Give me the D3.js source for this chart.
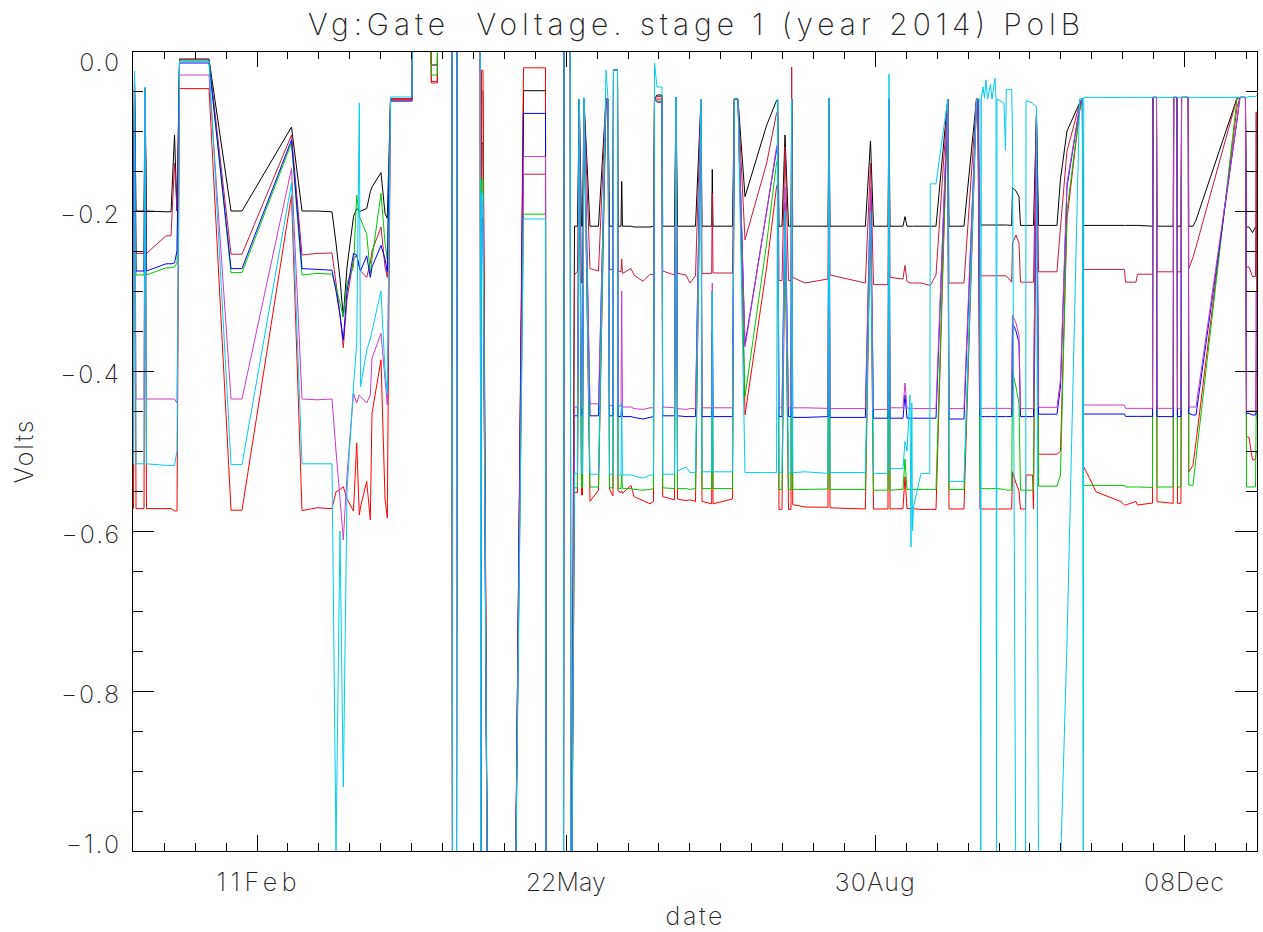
<!DOCTYPE html>
<html>
<head>
<meta charset="utf-8">
<script src="https://cdn.jsdelivr.net/npm/d3@7"></script>
<style>
  body { margin: 0; background: #fff; }
  text { font-family: "Inter", "DejaVu Sans", sans-serif; font-weight: 200; fill: #222; }
</style>
</head>
<body>
<svg id="chart" width="1263" height="932"></svg>
<script>
// day of 2014 (days since 1 Jan), one shared time base for every channel
var days = [
  0.72, 1.21, 1.53, 2.02, 4.61, 4.93, 5.41, 11.72, 13.34, 14.47,
  15.28, 16.09, 25.63, 32.75, 36.30, 52.31, 55.71, 60.56, 65.41, 66.71,
  68.00, 69.07, 70.27, 72.37, 73.40, 74.25, 74.63, 76.64, 77.80, 78.35,
  81.26, 82.56, 83.30, 84.34, 91.29, 91.45, 97.37, 97.53, 99.47, 99.64,
  104.23, 104.39, 105.68, 105.85, 113.38, 113.54, 113.77, 114.25, 115.71, 124.61,
  127.36, 134.47, 134.63, 140.29, 140.45, 142.49, 142.65, 142.88, 143.85, 144.82,
  145.40, 146.11, 146.44, 146.92, 148.86, 151.61, 154.04, 154.69, 155.17, 156.30,
  156.46, 157.76, 157.92, 158.89, 159.12, 159.37, 162.12, 163.10, 166.01, 168.27,
  169.40, 169.73, 170.53, 172.15, 172.38, 176.19, 176.68, 177.17, 179.91, 181.21,
  182.99, 184.77, 185.09, 188.23, 188.42, 188.65, 194.96, 195.54, 196.73, 199.00,
  206.02, 209.19, 209.58, 209.99, 210.97, 211.94, 213.07, 213.88, 214.10, 214.43,
  218.40, 225.84, 226.17, 226.49, 237.94, 239.59, 240.56, 245.25, 245.57, 245.90,
  250.10, 250.75, 251.40, 252.37, 252.69, 252.95, 253.18, 253.50, 255.92, 258.77,
  258.93, 260.78, 264.60, 264.98, 269.83, 273.88, 274.36, 275.01, 275.27, 275.43,
  275.98, 276.47, 276.95, 277.44, 278.41, 278.89, 279.86, 280.18, 280.35, 280.51,
  282.77, 283.26, 283.52, 285.26, 285.52, 286.65, 287.62, 288.11, 289.73, 289.89,
  292.02, 292.31, 293.28, 293.96, 299.91, 301.05, 303.15, 307.23, 308.13, 308.42,
  308.58, 310.59, 312.53, 320.62, 321.75, 322.07, 325.47, 325.95, 330.81, 330.97,
  332.10, 332.26, 337.50, 337.66, 338.73, 338.89, 340.02, 340.21, 342.38, 342.54,
  343.90, 344.87, 358.14, 359.11, 360.88, 361.21, 362.02, 363.15, 364.12, 364.35,
  364.61
];

// gate voltages (V); values outside [-1, 0] run off the frame
var vgBlack = [
  -0.035, -0.2, -0.035, -0.2, -0.2, -0.047, -0.2, -0.201, -0.201, -0.105,
  -0.2, -0.01, -0.01, -0.2, -0.2, -0.095, -0.2, -0.2, -0.201, -0.24,
  -0.285, -0.3325, -0.27, -0.207, -0.197, -0.2, -0.2, -0.197, -0.176, -0.17,
  -0.152, -0.203, -0.209, -0.06, -0.06, 0.05, 0.05, -0.0175, -0.0175, 0.05,
  0.05, -1.1, -1.1, 0.05, 0.05, -1.1, -0.115, -0.115, -1.1, -1.1,
  -0.0496, -0.0496, -1.1, -1.1, 0.05, 0.05, -1.1, -1.1, -0.219, -0.219,
  -0.06, -0.219, -0.219, -0.06, -0.219, -0.219, -0.06, -0.06, -0.219, -0.219,
  -0.024, -0.024, -0.219, -0.219, -0.163, -0.219, -0.219, -0.22, -0.22, -0.22,
  -0.219, -0.06, -0.055, -0.055, -0.219, -0.219, -0.058, -0.219, -0.219, -0.219,
  -0.219, -0.06, -0.219, -0.219, -0.148, -0.219, -0.219, -0.06, -0.06, -0.182,
  -0.0925, -0.062, -0.061, -0.219, -0.219, -0.105, -0.219, -0.219, -0.06, -0.219,
  -0.219, -0.219, -0.059, -0.219, -0.219, -0.1125, -0.219, -0.219, -0.06, -0.219,
  -0.219, -0.207, -0.219, -0.219, -0.219, -0.219, -0.219, -0.219, -0.219, -0.219,
  -0.219, -0.219, -0.06, -0.219, -0.219, -0.06, -0.06, -0.2175, -0.2175, -0.2175,
  -0.2175, -0.2175, -0.2175, -0.2175, -0.2175, -0.2175, -0.2175, -0.2175, -0.2175, -0.2175,
  -0.2175, -0.2175, -0.2175, -0.218, -0.171, -0.175, -0.182, -0.218, -0.218, -0.218,
  -0.218, -0.218, -0.08, -0.218, -0.218, -0.16, -0.1, -0.065, -0.059, -0.218,
  -0.218, -0.218, -0.218, -0.218, -0.218, -0.218, -0.218, -0.218, -0.219, -0.058,
  -0.058, -0.219, -0.219, -0.058, -0.058, -0.219, -0.219, -0.058, -0.058, -0.219,
  -0.219, -0.2116, -0.059, -0.058, -0.058, -0.22, -0.22, -0.227, -0.22, -0.22,
  -0.22
];

var vgCrimson = [
  -0.035, -0.253, -0.035, -0.253, -0.253, -0.047, -0.253, -0.231, -0.231, -0.14,
  -0.2, -0.011, -0.011, -0.254, -0.254, -0.105, -0.255, -0.253, -0.2525, -0.29,
  -0.33, -0.371, -0.31, -0.26, -0.255, -0.27, -0.275, -0.283, -0.265, -0.25,
  -0.22, -0.27, -0.283, -0.06, -0.06, 0.05, 0.05, -0.038, -0.038, 0.05,
  0.05, -1.1, -1.1, 0.05, 0.05, -1.1, -0.05, -0.05, -1.1, -1.1,
  -0.154, -0.154, -1.1, -1.1, 0.05, 0.05, -1.1, -1.1, -0.28, -0.275,
  -0.06, -0.29, -0.29, -0.06, -0.272, -0.275, -0.06, -0.06, -0.273, -0.273,
  -0.024, -0.024, -0.275, -0.276, -0.26, -0.278, -0.272, -0.28, -0.288, -0.279,
  -0.28, -0.06, -0.057, -0.057, -0.275, -0.28, -0.058, -0.278, -0.28, -0.29,
  -0.281, -0.06, -0.278, -0.278, -0.178, -0.2775, -0.2775, -0.06, -0.06, -0.236,
  -0.14, -0.078, -0.075, -0.287, -0.287, -0.12, -0.287, -0.287, -0.02, -0.283,
  -0.29, -0.285, -0.059, -0.28, -0.29, -0.14, -0.292, -0.292, -0.06, -0.283,
  -0.285, -0.268, -0.288, -0.29, -0.29, -0.29, -0.29, -0.29, -0.29, -0.293,
  -0.293, -0.28, -0.06, -0.29, -0.29, -0.06, -0.06, -0.281, -0.281, -0.281,
  -0.281, -0.281, -0.281, -0.281, -0.281, -0.281, -0.281, -0.281, -0.281, -0.281,
  -0.281, -0.281, -0.281, -0.289, -0.24, -0.23, -0.24, -0.289, -0.289, -0.289,
  -0.289, -0.289, -0.08, -0.276, -0.276, -0.22, -0.125, -0.066, -0.059, -0.273,
  -0.273, -0.273, -0.273, -0.273, -0.273, -0.289, -0.289, -0.279, -0.279, -0.058,
  -0.058, -0.276, -0.276, -0.058, -0.058, -0.276, -0.276, -0.058, -0.058, -0.272,
  -0.258, -0.245, -0.059, -0.058, -0.058, -0.27, -0.27, -0.282, -0.282, -0.076,
  -0.46
];

var vgBlue = [
  -0.046, -0.275, -0.035, -0.275, -0.275, -0.047, -0.275, -0.266, -0.266, -0.265,
  -0.25, -0.015, -0.015, -0.272, -0.272, -0.111, -0.272, -0.273, -0.274, -0.3,
  -0.33, -0.361, -0.3, -0.253, -0.255, -0.27, -0.275, -0.256, -0.283, -0.27,
  -0.243, -0.26, -0.276, -0.0625, -0.0625, 0.05, 0.05, 0.05, 0.05, 0.05,
  0.05, -1.1, -1.1, 0.05, 0.05, -1.1, -0.21, -0.21, -1.1, -1.1,
  -0.078, -0.078, -1.1, -1.1, 0.05, 0.05, -1.1, -1.1, -0.456, -0.456,
  -0.06, -0.456, -0.456, -0.06, -0.456, -0.456, -0.06, -0.06, -0.456, -0.456,
  -0.024, -0.024, -0.457, -0.457, -0.44, -0.457, -0.457, -0.458, -0.46, -0.458,
  -0.457, -0.06, -0.064, -0.064, -0.456, -0.456, -0.058, -0.456, -0.457, -0.457,
  -0.457, -0.06, -0.457, -0.457, -0.3, -0.457, -0.457, -0.06, -0.06, -0.367,
  -0.2, -0.124, -0.12, -0.457, -0.457, -0.19, -0.457, -0.457, -0.06, -0.458,
  -0.458, -0.457, -0.059, -0.458, -0.458, -0.18, -0.459, -0.459, -0.06, -0.459,
  -0.459, -0.43, -0.459, -0.459, -0.459, -0.459, -0.459, -0.459, -0.459, -0.459,
  -0.459, -0.459, -0.06, -0.46, -0.46, -0.06, -0.06, -0.457, -0.457, -0.457,
  -0.457, -0.457, -0.457, -0.457, -0.457, -0.457, -0.457, -0.457, -0.457, -0.457,
  -0.457, -0.457, -0.457, -0.457, -0.34, -0.35, -0.365, -0.457, -0.457, -0.457,
  -0.457, -0.457, -0.08, -0.454, -0.454, -0.42, -0.17, -0.07, -0.059, -0.4538,
  -0.4538, -0.4538, -0.4538, -0.4538, -0.4538, -0.4567, -0.4567, -0.4567, -0.4567, -0.058,
  -0.058, -0.457, -0.457, -0.058, -0.058, -0.457, -0.457, -0.058, -0.058, -0.453,
  -0.455, -0.455, -0.087, -0.058, -0.058, -0.453, -0.453, -0.455, -0.455, -0.45,
  -0.45
];

var vgGreen = [
  -0.046, -0.28, -0.035, -0.28, -0.28, -0.047, -0.28, -0.271, -0.271, -0.27,
  -0.265, -0.0125, -0.0125, -0.277, -0.277, -0.115, -0.28, -0.278, -0.279, -0.295,
  -0.315, -0.3325, -0.29, -0.27, -0.18, -0.207, -0.21, -0.229, -0.278, -0.26,
  -0.178, -0.24, -0.26, -0.0625, -0.0625, 0.05, 0.05, -0.03, -0.03, 0.05,
  0.05, -1.1, -1.1, 0.05, 0.05, -1.1, -0.16, -0.16, -1.1, -1.1,
  -0.204, -0.204, -1.1, -1.1, 0.05, 0.05, -1.1, -1.1, -0.546, -0.546,
  -0.06, -0.546, -0.546, -0.06, -0.545, -0.545, -0.06, -0.06, -0.546, -0.546,
  -0.024, -0.024, -0.547, -0.547, -0.53, -0.547, -0.547, -0.548, -0.549, -0.548,
  -0.547, -0.06, -0.0625, -0.0625, -0.546, -0.547, -0.058, -0.547, -0.547, -0.548,
  -0.547, -0.06, -0.547, -0.547, -0.35, -0.547, -0.547, -0.06, -0.06, -0.432,
  -0.24, -0.14, -0.135, -0.548, -0.548, -0.2, -0.548, -0.548, -0.06, -0.548,
  -0.548, -0.5475, -0.059, -0.548, -0.548, -0.19, -0.549, -0.549, -0.06, -0.549,
  -0.548, -0.51, -0.548, -0.548, -0.548, -0.548, -0.548, -0.548, -0.548, -0.548,
  -0.548, -0.548, -0.06, -0.548, -0.548, -0.06, -0.06, -0.547, -0.547, -0.547,
  -0.547, -0.547, -0.547, -0.547, -0.547, -0.547, -0.547, -0.547, -0.547, -0.547,
  -0.548, -0.548, -0.549, -0.549, -0.40, -0.42, -0.44, -0.549, -0.549, -0.549,
  -0.549, -0.549, -0.08, -0.544, -0.544, -0.53, -0.2, -0.075, -0.059, -0.543,
  -0.543, -0.543, -0.543, -0.543, -0.543, -0.545, -0.545, -0.545, -0.5455, -0.058,
  -0.058, -0.545, -0.545, -0.058, -0.058, -0.545, -0.545, -0.058, -0.058, -0.5425,
  -0.543, -0.509, -0.06, -0.058, -0.058, -0.545, -0.545, -0.545, -0.545, -0.453,
  -0.453
];

var vgMagenta = [
  -0.046, -0.435, -0.035, -0.435, -0.435, -0.047, -0.435, -0.435, -0.435, -0.435,
  -0.44, -0.03, -0.03, -0.435, -0.435, -0.147, -0.435, -0.436, -0.435, -0.5,
  -0.56, -0.611, -0.53, -0.428, -0.44, -0.43, -0.432, -0.44, -0.43, -0.384,
  -0.353, -0.41, -0.442, -0.0625, -0.0625, 0.05, 0.05, 0.05, 0.05, 0.05,
  0.05, -1.1, -1.1, 0.05, 0.05, -1.1, -0.19, -0.19, -1.1, -1.1,
  -0.132, -0.132, -1.1, -1.1, 0.05, 0.05, -1.1, -1.1, -0.445, -0.445,
  -0.06, -0.446, -0.446, -0.06, -0.441, -0.441, -0.06, -0.06, -0.443, -0.443,
  -0.024, -0.024, -0.443, -0.444, -0.3, -0.445, -0.445, -0.447, -0.448, -0.446,
  -0.446, -0.06, -0.064, -0.064, -0.445, -0.446, -0.058, -0.447, -0.448, -0.447,
  -0.447, -0.06, -0.446, -0.446, -0.29, -0.446, -0.446, -0.06, -0.06, -0.37,
  -0.2, -0.12, -0.115, -0.446, -0.446, -0.17, -0.446, -0.446, -0.06, -0.446,
  -0.446, -0.4467, -0.059, -0.447, -0.447, -0.17, -0.448, -0.448, -0.06, -0.446,
  -0.446, -0.415, -0.446, -0.447, -0.447, -0.447, -0.447, -0.447, -0.447, -0.447,
  -0.447, -0.447, -0.06, -0.447, -0.447, -0.06, -0.06, -0.4467, -0.4467, -0.4467,
  -0.4467, -0.4467, -0.4467, -0.4467, -0.4467, -0.4467, -0.4467, -0.4467, -0.4467, -0.4467,
  -0.4467, -0.4467, -0.4467, -0.4467, -0.33, -0.34, -0.355, -0.447, -0.447, -0.447,
  -0.447, -0.447, -0.08, -0.4454, -0.4454, -0.41, -0.165, -0.07, -0.059, -0.4425,
  -0.4425, -0.4425, -0.4425, -0.4425, -0.4425, -0.4467, -0.4467, -0.4467, -0.4467, -0.058,
  -0.058, -0.4467, -0.4467, -0.058, -0.058, -0.4467, -0.4467, -0.058, -0.058, -0.445,
  -0.445, -0.445, -0.086, -0.058, -0.058, -0.45, -0.45, -0.45, -0.45, -0.3,
  -0.45
];

var vgCyan = [
  -0.028, -0.516, -0.025, -0.516, -0.516, -0.045, -0.516, -0.518, -0.518, -0.518,
  -0.5, -0.0125, -0.0125, -0.517, -0.517, -0.165, -0.516, -0.516, -0.516, -1.0,
  -0.6, -0.92, -0.55, -0.418, -0.366, -0.065, -0.42, -0.374, -0.36, -0.35,
  -0.3, -0.4, -0.428, -0.0575, -0.0575, 0.05, 0.05, 0.05, 0.05, 0.05,
  0.05, -1.1, -1.1, 0.05, 0.05, -1.1, -0.178, -0.178, -1.1, -1.1,
  -0.21, -0.21, -1.1, -1.1, 0.05, 0.05, -1.1, -1.1, -0.528, -0.528,
  -0.06, -0.528, -0.528, -0.058, -0.529, -0.529, -0.024, -0.06, -0.529, -0.529,
  -0.024, -0.024, -0.53, -0.53, -0.44, -0.53, -0.53, -0.531, -0.534, -0.53,
  -0.53, -0.015, -0.045, -0.045, -0.529, -0.529, -0.058, -0.525, -0.52, -0.527,
  -0.527, -0.06, -0.526, -0.526, -0.3, -0.526, -0.526, -0.06, -0.06, -0.527,
  -0.527, -0.527, -0.06, -0.527, -0.527, -0.2, -0.527, -0.527, -0.06, -0.527,
  -0.526, -0.528, -0.059, -0.527, -0.527, -0.2, -0.528, -0.528, -0.029, -0.522,
  -0.522, -0.488, -0.5, -0.43, -0.62, -0.44, -0.6, -0.57, -0.528, -0.528,
  -0.166, -0.166, -0.06, -0.538, -0.538, -0.06, -0.06, -0.06, -1.1, -0.06,
  -0.045, -0.059, -0.036, -0.06, -0.042, -0.06, -0.034, -0.059, -1.1, -0.06,
  -0.065, -0.124, -0.048, -0.048, -0.1, -1.1, -1.1, -1.1, -1.1, -0.062,
  -0.065, -0.066, -0.07, -1.1, -1.1, -1.02, -0.74, -0.06, -0.059, -1.1,
  -0.058, -0.058, -0.058, -0.058, -0.058, -0.058, -0.058, -0.058, -0.058, -0.058,
  -0.058, -0.058, -0.058, -0.058, -0.058, -0.058, -0.058, -0.058, -0.058, -0.058,
  -0.058, -0.058, -0.058, -0.058, -0.058, -0.058, -0.057, -0.057, -0.057, -0.056,
  -0.056
];

var vgRed = [
  -0.046, -0.572, -0.035, -0.572, -0.572, -0.047, -0.572, -0.572, -0.572, -0.575,
  -0.575, -0.047, -0.047, -0.574, -0.574, -0.18, -0.5745, -0.571, -0.572, -0.551,
  -0.548, -0.5446, -0.56, -0.575, -0.49, -0.58, -0.57, -0.538, -0.586, -0.453,
  -0.386, -0.56, -0.584, -0.06, -0.06, 0.05, 0.05, -0.04, -0.04, 0.05,
  0.05, -1.1, -1.1, 0.05, 0.05, -1.1, -0.024, -0.024, -1.1, -1.1,
  -0.021, -0.021, -1.1, -1.1, 0.05, 0.05, -1.1, -1.1, -0.552, -0.552,
  -0.06, -0.555, -0.555, -0.06, -0.563, -0.549, -0.06, -0.06, -0.548, -0.556,
  -0.024, -0.024, -0.55, -0.552, -0.55, -0.553, -0.543, -0.557, -0.562, -0.566,
  -0.563, -0.06, -0.06, -0.06, -0.557, -0.561, -0.058, -0.56, -0.562, -0.561,
  -0.563, -0.06, -0.563, -0.566, -0.35, -0.566, -0.56, -0.06, -0.06, -0.455,
  -0.27, -0.17, -0.165, -0.573, -0.573, -0.22, -0.573, -0.573, -0.06, -0.567,
  -0.57, -0.5704, -0.059, -0.571, -0.5725, -0.2, -0.5725, -0.5725, -0.06, -0.5725,
  -0.572, -0.532, -0.572, -0.572, -0.572, -0.572, -0.572, -0.572, -0.573, -0.573,
  -0.573, -0.573, -0.06, -0.5725, -0.5725, -0.06, -0.06, -0.5725, -0.5725, -0.5725,
  -0.5725, -0.5725, -0.5725, -0.5725, -0.5725, -0.5725, -0.5725, -0.5725, -0.5725, -0.5725,
  -0.5725, -0.5725, -0.5725, -0.5725, -0.526, -0.54, -0.55, -0.5725, -0.5725, -0.53,
  -0.53, -0.5725, -0.08, -0.504, -0.504, -0.5, -0.21, -0.075, -0.059, -0.52,
  -0.52, -0.535, -0.551, -0.5633, -0.5675, -0.5675, -0.563, -0.5675, -0.565, -0.058,
  -0.058, -0.5633, -0.5654, -0.058, -0.058, -0.5654, -0.5654, -0.058, -0.058, -0.526,
  -0.518, -0.489, -0.07, -0.058, -0.058, -0.482, -0.483, -0.511, -0.511, -0.501,
  -0.501
];

var channelNames = ["black", "crimson", "red", "green", "blue", "magenta", "cyan"];
var channelColors = ["#000000", "#c8193c", "#ff0000", "#00c800", "#0000ff", "#c83cc8", "#00cdf0"];
var channelValues = [vgBlack, vgCrimson, vgRed, vgGreen, vgBlue, vgMagenta, vgCyan];

var xMajorDays = [41, 141, 241, 341];
var xMajorLabels = ["11Feb", "22May", "30Aug", "08Dec"];
var yMajorValues = [-1.0, -0.8, -0.6, -0.4, -0.2, 0.0];
var yMajorLabels = ["\u22121.0", "\u22120.8", "\u22120.6", "\u22120.4", "\u22120.2", "0.0"];

var titleText = "Vg:Gate  Voltage. stage 1 (year 2014) PolB";

var plotL = 132, plotR = 1257, plotT = 51, plotB = 851;

var svg = d3.select("#chart");

var x = d3.scaleLinear().domain([days[0], days[days.length - 1]]).range([plotL, plotR]);
var y = d3.scaleLinear().domain([-1, 0]).range([plotB, plotT]);

svg.append("defs").append("clipPath").attr("id", "plotclip")
  .append("rect")
    .attr("x", plotL).attr("y", plotT)
    .attr("width", plotR - plotL).attr("height", plotB - plotT);

var line = d3.line()
  .x(function(d, i) { return x(days[i]); })
  .y(function(d) { return y(d); });

svg.append("g")
    .attr("clip-path", "url(#plotclip)")
  .selectAll("path")
  .data(channelValues)
  .enter().append("path")
    .attr("d", line)
    .attr("fill", "none")
    .attr("stroke", function(d, i) { return channelColors[i]; })
    .attr("stroke-width", 1);

// ticks, IDL style: inward on all four sides
var xMinorDays = d3.range(11, 365, 10).filter(function(d) { return xMajorDays.indexOf(d) < 0; });
var yMinorValues = d3.range(1, 20).filter(function(i) { return i % 4 !== 0; })
  .map(function(i) { return -1 + i * 0.05; });

function styleAxis(g) {
  g.selectAll("path, line").attr("stroke", "#000").attr("stroke-width", 1)
    .attr("shape-rendering", "crispEdges");
  g.selectAll("text").remove();
}

svg.append("g").attr("transform", "translate(0," + plotB + ")")
  .call(d3.axisBottom(x).tickValues(xMajorDays).tickSizeInner(-16).tickSizeOuter(0))
  .call(styleAxis);
svg.append("g").attr("transform", "translate(0," + plotB + ")")
  .call(d3.axisBottom(x).tickValues(xMinorDays).tickSizeInner(-8).tickSizeOuter(0))
  .call(styleAxis);
svg.append("g").attr("transform", "translate(0," + plotT + ")")
  .call(d3.axisTop(x).tickValues(xMajorDays).tickSizeInner(-16).tickSizeOuter(0))
  .call(styleAxis);
svg.append("g").attr("transform", "translate(0," + plotT + ")")
  .call(d3.axisTop(x).tickValues(xMinorDays).tickSizeInner(-8).tickSizeOuter(0))
  .call(styleAxis);

svg.append("g").attr("transform", "translate(" + plotL + ",0)")
  .call(d3.axisLeft(y).tickValues(yMajorValues).tickSizeInner(-22).tickSizeOuter(0))
  .call(styleAxis);
svg.append("g").attr("transform", "translate(" + plotL + ",0)")
  .call(d3.axisLeft(y).tickValues(yMinorValues).tickSizeInner(-11).tickSizeOuter(0))
  .call(styleAxis);
svg.append("g").attr("transform", "translate(" + plotR + ",0)")
  .call(d3.axisRight(y).tickValues(yMajorValues).tickSizeInner(-22).tickSizeOuter(0))
  .call(styleAxis);
svg.append("g").attr("transform", "translate(" + plotR + ",0)")
  .call(d3.axisRight(y).tickValues(yMinorValues).tickSizeInner(-11).tickSizeOuter(0))
  .call(styleAxis);

// labels
svg.selectAll(".xlab")
  .data(xMajorDays)
  .enter().append("text")
    .attr("class", "xlab")
    .attr("x", function(d) { return x(d); })
    .attr("y", plotB + 40)
    .attr("text-anchor", "middle")
    .attr("font-size", 25)
    .attr("textLength", 80)
    .attr("lengthAdjust", "spacing")
    .text(function(d, i) { return xMajorLabels[i]; });

svg.selectAll(".ylab")
  .data(yMajorValues)
  .enter().append("text")
    .attr("class", "ylab")
    .attr("x", 121)
    .attr("y", function(d) { return Math.max(71, Math.min(853, y(d) + 12)); })
    .attr("text-anchor", "end")
    .attr("font-size", 25)
    .attr("letter-spacing", 2)
    .text(function(d, i) { return yMajorLabels[i]; });

svg.append("text")
  .attr("x", 694).attr("y", 35)
  .attr("text-anchor", "middle")
  .attr("font-size", 30)
  .attr("textLength", 772)
  .attr("lengthAdjust", "spacing")
  .style("white-space", "pre")
  .text(titleText);

svg.append("text")
  .attr("x", 694).attr("y", 925)
  .attr("text-anchor", "middle")
  .attr("font-size", 25)
  .attr("textLength", 57)
  .attr("lengthAdjust", "spacing")
  .text("date");

svg.append("text")
  .attr("transform", "translate(33,452) rotate(-90)")
  .attr("text-anchor", "middle")
  .attr("font-size", 25)
  .attr("textLength", 63)
  .attr("lengthAdjust", "spacing")
  .text("Volts");
</script>
</body>
</html>
